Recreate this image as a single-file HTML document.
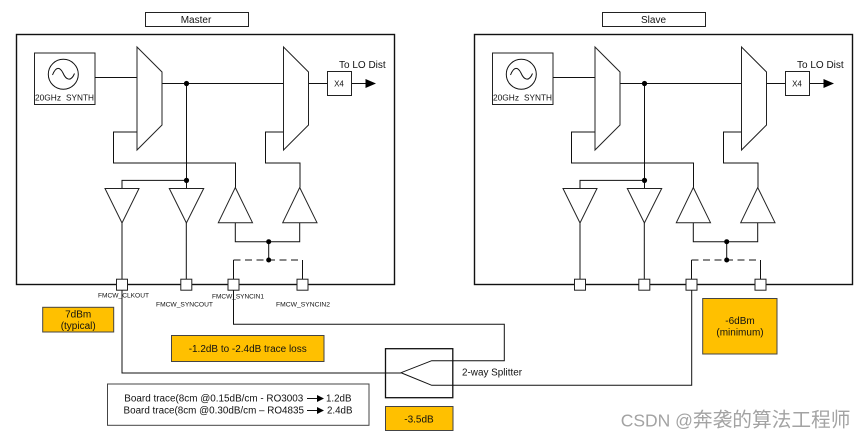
<!DOCTYPE html>
<html><head><meta charset="utf-8"><style>
html,body{margin:0;padding:0;background:#fff}
svg{display:block}
text{font-family:"Liberation Sans","Noto Sans CJK SC",sans-serif;font-size:10px;fill:#111}
.l{fill:none;stroke:#111;stroke-width:1}
.t{fill:#fff;stroke:#222;stroke-width:1}
.o{fill:#FFC000;stroke:#444;stroke-width:1}
.d{fill:#000}
.p{fill:#fff;stroke:#222;stroke-width:1}
.m{text-anchor:middle}
</style></head><body>
<svg width="867" height="439" viewBox="0 0 867 439" xmlns="http://www.w3.org/2000/svg">
<!-- MASTER -->
<rect x="145.5" y="12.5" width="103" height="14" class="t" stroke="#333"/>
<text x="196" y="23" class="m">Master</text>
<g>
<rect x="16.5" y="34.5" width="378" height="250" fill="none" stroke="#111" stroke-width="1.4"/>
<rect x="34.5" y="53" width="60.5" height="51.5" class="t"/>
<circle cx="63.3" cy="74.3" r="15" fill="none" stroke="#111"/>
<path d="M52.5 75 C56 66 60 67 63 73 C66 80 71 82 74.5 73.5" fill="none" stroke="#111"/>
<text x="35" y="100.7" font-size="8.3" style="font-size:8.3px" textLength="26" lengthAdjust="spacingAndGlyphs">20GHz</text>
<text x="66" y="100.7" style="font-size:8.3px" textLength="28" lengthAdjust="spacingAndGlyphs">SYNTH</text>
<path class="l" d="M95 77.5H137M162 83.5H283.5M186.5 83.5V188.5M137 132H113.5V163H235.5V187.5M283.5 132H265.5V163H300V187.5M308.5 83.5H327.5M351.5 83.5H366"/>
<polygon class="t" points="137,47 162,72 162,125 137,150"/>
<polygon class="t" points="283.5,47 308.5,72 308.5,125 283.5,150"/>
<circle class="d" cx="186.5" cy="83.5" r="2.6"/>
<rect x="327.5" y="71.5" width="24" height="24" class="t"/>
<text x="339" y="86.5" class="m" style="font-size:8px">X4</text>
<polygon class="d" points="365.5,79 376,83.5 365.5,88"/>
<text x="339" y="68">To LO Dist</text>
<path class="l" d="M122 188.5V180.4H186.5M122 223V279M186.3 223V279M235.3 222.7V241.7H299.7V222.7M268.7 241.7V260M233.5 279V260M302.5 279V260"/>
<path class="l" stroke-dasharray="7 4.5" d="M233.5 260H302.5"/>
<polygon class="t" points="105,188.5 139,188.5 122,223"/>
<polygon class="t" points="169.3,188.5 203.7,188.5 186.4,223"/>
<polygon class="t" points="235.3,187.5 252.5,222.7 218.3,222.7"/>
<polygon class="t" points="299.7,187.5 317,222.7 282.7,222.7"/>
<circle class="d" cx="186.5" cy="180.4" r="2.6"/>
<circle class="d" cx="268.7" cy="241.7" r="2.5"/>
<circle class="d" cx="268.7" cy="260" r="2.5"/>
<rect x="116.5" y="279.2" width="11" height="11" class="p"/>
<rect x="180.8" y="279.2" width="11" height="11" class="p"/>
<rect x="228" y="279.2" width="11" height="11" class="p"/>
<rect x="297" y="279.2" width="11" height="11" class="p"/>
</g>
<!-- SLAVE -->
<rect x="602.5" y="12.5" width="103" height="14" class="t"/>
<text x="653.5" y="23" class="m">Slave</text>
<g transform="translate(458,0)">
<rect x="16.5" y="34.5" width="378" height="250" fill="none" stroke="#111" stroke-width="1.4"/>
<rect x="34.5" y="53" width="60.5" height="51.5" class="t"/>
<circle cx="63.3" cy="74.3" r="15" fill="none" stroke="#111"/>
<path d="M52.5 75 C56 66 60 67 63 73 C66 80 71 82 74.5 73.5" fill="none" stroke="#111"/>
<text x="35" y="100.7" style="font-size:8.3px" textLength="26" lengthAdjust="spacingAndGlyphs">20GHz</text>
<text x="66" y="100.7" style="font-size:8.3px" textLength="28" lengthAdjust="spacingAndGlyphs">SYNTH</text>
<path class="l" d="M95 77.5H137M162 83.5H283.5M186.5 83.5V188.5M137 132H113.5V163H235.5V187.5M283.5 132H265.5V163H300V187.5M308.5 83.5H327.5M351.5 83.5H366"/>
<polygon class="t" points="137,47 162,72 162,125 137,150"/>
<polygon class="t" points="283.5,47 308.5,72 308.5,125 283.5,150"/>
<circle class="d" cx="186.5" cy="83.5" r="2.6"/>
<rect x="327.5" y="71.5" width="24" height="24" class="t"/>
<text x="339" y="86.5" class="m" style="font-size:8px">X4</text>
<polygon class="d" points="365.5,79 376,83.5 365.5,88"/>
<text x="339" y="68">To LO Dist</text>
<path class="l" d="M122 188.5V180.4H186.5M122 223V279M186.3 223V279M235.3 222.7V241.7H299.7V222.7M268.7 241.7V260M233.5 279V260M302.5 279V260"/>
<path class="l" stroke-dasharray="7 4.5" d="M233.5 260H302.5"/>
<polygon class="t" points="105,188.5 139,188.5 122,223"/>
<polygon class="t" points="169.3,188.5 203.7,188.5 186.4,223"/>
<polygon class="t" points="235.3,187.5 252.5,222.7 218.3,222.7"/>
<polygon class="t" points="299.7,187.5 317,222.7 282.7,222.7"/>
<circle class="d" cx="186.5" cy="180.4" r="2.6"/>
<circle class="d" cx="268.7" cy="241.7" r="2.5"/>
<circle class="d" cx="268.7" cy="260" r="2.5"/>
<rect x="116.5" y="279.2" width="11" height="11" class="p"/>
<rect x="180.8" y="279.2" width="11" height="11" class="p"/>
<rect x="228" y="279.2" width="11" height="11" class="p"/>
<rect x="297" y="279.2" width="11" height="11" class="p"/>
</g>
<!-- Port labels -->
<text x="98" y="297.7" style="font-size:6.6px" textLength="51" lengthAdjust="spacingAndGlyphs">FMCW_CLKOUT</text>
<text x="156" y="306.7" style="font-size:6.6px" textLength="57" lengthAdjust="spacingAndGlyphs">FMCW_SYNCOUT</text>
<text x="212" y="298.5" style="font-size:6.6px" textLength="52" lengthAdjust="spacingAndGlyphs">FMCW_SYNCIN1</text>
<text x="276" y="306.7" style="font-size:6.6px" textLength="54" lengthAdjust="spacingAndGlyphs">FMCW_SYNCIN2</text>
<!-- Connections -->
<path class="l" d="M122 290.2V373H401M233.5 290.2V324.3H504.3V360.7H431.7L401 372.7L431.7 385.3H691.7V290.2"/>
<rect x="385.5" y="348.7" width="67.3" height="49" fill="none" stroke="#111" stroke-width="1.3"/>
<path class="l" d="M385.5 373H401"/>
<text x="462" y="375.7" textLength="60" lengthAdjust="spacingAndGlyphs">2-way Splitter</text>
<!-- Orange notes -->
<rect x="42.7" y="307.3" width="71" height="24.7" class="o"/>
<text x="78.2" y="317.5" class="m">7dBm</text>
<text x="78.2" y="329" class="m">(typical)</text>
<rect x="171.5" y="335.5" width="152.5" height="26" class="o"/>
<text x="247.7" y="352" class="m" textLength="118" lengthAdjust="spacingAndGlyphs">-1.2dB to -2.4dB trace loss</text>
<rect x="385.5" y="406.5" width="67.5" height="24" class="o"/>
<text x="419" y="422.5" class="m">-3.5dB</text>
<rect x="702.7" y="298.5" width="74.3" height="55.5" class="o"/>
<text x="740" y="324" class="m">-6dBm</text>
<text x="740" y="335.5" class="m">(minimum)</text>
<!-- Board trace -->
<rect x="107.5" y="384" width="261.5" height="41.3" fill="#fff" stroke="#444"/>
<text x="124.3" y="401.7" textLength="179" lengthAdjust="spacingAndGlyphs">Board trace(8cm @0.15dB/cm - RO3003</text>
<text x="123.5" y="413.7" textLength="180.5" lengthAdjust="spacingAndGlyphs">Board trace(8cm @0.30dB/cm – RO4835</text>
<path class="l" d="M307 398.5H318M307 410.5H318"/>
<polygon class="d" points="317,395 324,398.5 317,402"/>
<polygon class="d" points="317,407 324,410.5 317,414"/>
<text x="326" y="401.7" textLength="25.5" lengthAdjust="spacingAndGlyphs">1.2dB</text>
<text x="327" y="413.7" textLength="25.5" lengthAdjust="spacingAndGlyphs">2.4dB</text>
<!-- Watermark -->
<text x="620.7" y="426.5" style="font-size:17.5px;fill:#a3a3a3">CSDN @<tspan style="font-size:19.7px">奔袭的算法工程师</tspan></text>
</svg>
</body></html>
